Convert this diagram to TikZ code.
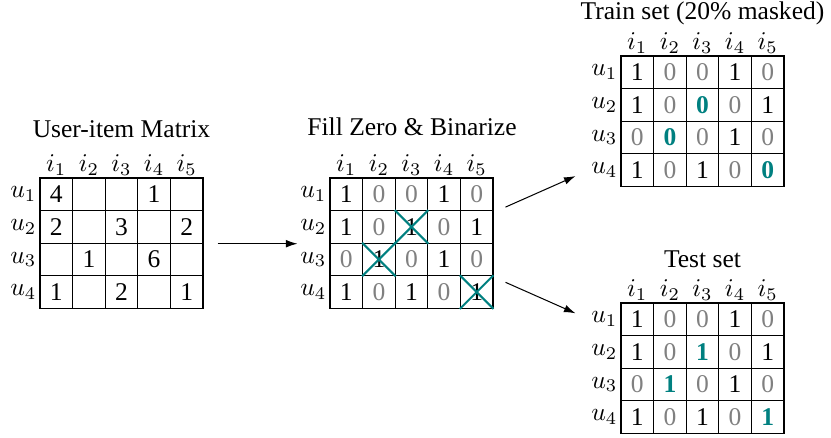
\documentclass[tikz,border=0pt]{standalone}
\usepackage{fontspec}
\setmainfont{Liberation Serif}
\usetikzlibrary{arrows.meta}

\newcommand{\zr}{\textcolor{gray}{0}}
\newcommand{\held}[1]{\textcolor{teal}{\textbf{#1}}}

\begin{document}
\begin{tikzpicture}[x=0.3916pt, y=-0.3916pt,
  cell/.style={draw, minimum size=12.77pt, inner sep=0pt},
  collabel/.style={anchor=south, inner sep=0.6pt},
  rowlabel/.style={anchor=east, inner sep=1pt},
  title/.style={inner sep=1pt},
  cross/.style={draw=teal, line width=0.8pt},
  link/.style={-{Latex[length=4.5pt, width=3pt]}, line width=0.4pt}]
  \useasboundingbox (0,0) rectangle (831,438);

  % raw ratings
  \foreach \row [count=\r] in {{4,{},{},1,{}}, {2,{},3,{},2}, {{},1,{},6,{}}, {1,{},2,{},1}} {
    \foreach \v [count=\c] in \row
      \node[cell] (raw-\r-\c) at ({40+(\c-0.5)*32.6}, {178+(\r-0.5)*32.6}) {\v};
  }

  % binarized
  \foreach \row [count=\r] in {{1,\zr,\zr,1,\zr}, {1,\zr,1,\zr,1}, {\zr,1,\zr,1,\zr}, {1,\zr,1,\zr,1}} {
    \foreach \v [count=\c] in \row
      \node[cell] (bin-\r-\c) at ({330+(\c-0.5)*32.6}, {178+(\r-0.5)*32.6}) {\v};
  }

  % train split
  \foreach \row [count=\r] in {{1,\zr,\zr,1,\zr}, {1,\zr,\held{0},\zr,1}, {\zr,\held{0},\zr,1,\zr}, {1,\zr,1,\zr,\held{0}}} {
    \foreach \v [count=\c] in \row
      \node[cell] (train-\r-\c) at ({621+(\c-0.5)*32.6}, {56+(\r-0.5)*32.6}) {\v};
  }

  % test split
  \foreach \row [count=\r] in {{1,\zr,\zr,1,\zr}, {1,\zr,\held{1},\zr,1}, {\zr,\held{1},\zr,1,\zr}, {1,\zr,1,\zr,\held{1}}} {
    \foreach \v [count=\c] in \row
      \node[cell] (test-\r-\c) at ({621+(\c-0.5)*32.6}, {303+(\r-0.5)*32.6}) {\v};
  }

  % item / user labels
  \foreach \m in {raw, bin, train, test} {
    \foreach \c in {1,...,5}
      \node[collabel] (\m-i\c) at (\m-1-\c.north) {$i_\c$};
    \foreach \r in {1,...,4}
      \node[rowlabel] (\m-u\r) at (\m-\r-1.west) {$u_\r$};
  }

  \node[title] (raw-title) at (121.5,129) {User-item Matrix};
  \node[title] (bin-title) at (412,127) {Fill Zero \& Binarize};
  \node[title] (train-title) at (702.5,13) {Train set (20\% masked)};
  \node[title] (test-title) at (702.5,259) {Test set};

  % held-out entries
  \foreach \cl in {bin-2-3, bin-3-2, bin-4-5}
    \draw[cross] (\cl.north west) -- (\cl.south east) (\cl.south west) -- (\cl.north east);

  \draw[link] ([shift={(14,0)}]raw-2-5.south east) -- ([shift={(-32,0)}]bin-2-1.south west);
  \draw[link] ([shift={(12,-4)}]bin-1-5.south east) -- ([shift={(-45,6)}]train-4-1.west);
  \draw[link] ([shift={(12,6)}]bin-3-5.south east) -- ([shift={(-45,-6)}]test-1-1.west);
\end{tikzpicture}
\end{document}
